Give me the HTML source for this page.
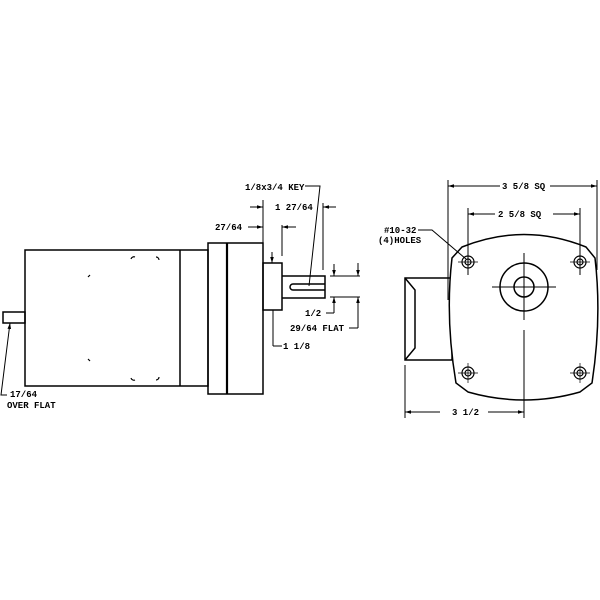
<!DOCTYPE html><html><head><style>body{margin:0;background:#fff}svg{display:block}text{font-family:"Liberation Mono",monospace;font-size:9px;font-weight:bold;fill:#000}</style></head><body>
<svg width="600" height="600" viewBox="0 0 600 600" xmlns="http://www.w3.org/2000/svg">
<defs><marker id="a" viewBox="0 0 10 10" refX="10" refY="5" markerWidth="6" markerHeight="6" orient="auto-start-reverse"><path d="M0,2L10,5L0,8z"/></marker></defs>
<g fill="none" stroke="#000" stroke-width="1.5">
<rect x="25" y="250" width="183" height="136"/>
<line x1="180" y1="250" x2="180" y2="386"/>
<rect x="3" y="312" width="22" height="11"/>
<rect x="208" y="243" width="55" height="151"/>
<line x1="227" y1="243" x2="227" y2="394" stroke-width="2.2"/>
<rect x="263" y="263" width="19" height="47"/>
<path d="M282,276H325V298H282"/>
<path d="M325,284H293a3,3 0 0 0 0,6H325"/>
<g stroke-width="1.2"><path d="M131,259a3,3 0 0 1 4,-2M156,257a3,3 0 0 1 3,3M88,277l2,-2M88,359l2,2M131,378a3,3 0 0 0 4,2M156,380a3,3 0 0 0 3,-3"/></g>
<g stroke-width="1">
<line x1="263" y1="200" x2="263" y2="243"/><line x1="323" y1="203" x2="323" y2="270"/><line x1="282" y1="225" x2="282" y2="256"/>
<line x1="250" y1="207" x2="263" y2="207" marker-end="url(#a)"/><line x1="336" y1="207" x2="323" y2="207" marker-end="url(#a)"/>
<line x1="248" y1="227" x2="263" y2="227" marker-end="url(#a)"/><line x1="296" y1="227" x2="282" y2="227" marker-end="url(#a)"/>
<line x1="272" y1="252" x2="272" y2="263" marker-end="url(#a)"/><line x1="273" y1="310" x2="273" y2="346"/><line x1="273" y1="346" x2="282" y2="346"/>
<path d="M305,186H320L309,286"/>
<line x1="330" y1="276" x2="360" y2="276"/><line x1="330" y1="297" x2="360" y2="297"/>
<line x1="334" y1="264" x2="334" y2="276" marker-end="url(#a)"/><line x1="334" y1="303" x2="334" y2="313"/><line x1="334" y1="303" x2="334" y2="297" marker-end="url(#a)"/><line x1="326" y1="313" x2="334" y2="313"/>
<line x1="358" y1="263" x2="358" y2="276" marker-end="url(#a)"/><line x1="358" y1="328" x2="358" y2="297" marker-end="url(#a)"/><line x1="349" y1="328" x2="358" y2="328"/>
<path d="M10,323L1,395H7" marker-start="url(#a)"/>
</g>
<path d="M405,278H452V360H405Z"/><path d="M405,278L415,290V348L405,360"/>
<path d="M462,247Q524,222 586,247L595,258Q602,318 592,383L580,392Q524,408 468,392L456,383Q445,318 452,258Z" fill="#fff"/>
<circle cx="524" cy="287" r="24"/><circle cx="524" cy="287" r="10"/>
<g stroke-width="1">
<line x1="492" y1="287" x2="556" y2="287"/><line x1="524" y1="253" x2="524" y2="320"/><line x1="524" y1="330" x2="524" y2="418"/>
<line x1="448" y1="180" x2="448" y2="300"/><line x1="597" y1="180" x2="597" y2="270"/>
<line x1="468" y1="208" x2="468" y2="275"/><line x1="580" y1="208" x2="580" y2="275"/>
<line x1="500" y1="186" x2="448" y2="186" marker-end="url(#a)"/><line x1="550" y1="186" x2="597" y2="186" marker-end="url(#a)"/>
<line x1="495" y1="214" x2="468" y2="214" marker-end="url(#a)"/><line x1="553" y1="214" x2="580" y2="214" marker-end="url(#a)"/>
<line x1="405" y1="365" x2="405" y2="418"/>
<line x1="440" y1="412" x2="405" y2="412" marker-end="url(#a)"/><line x1="488" y1="412" x2="524" y2="412" marker-end="url(#a)"/>
<path d="M418,230H432L466,259"/>
</g>
<g stroke-width="1.2">
<circle cx="468" cy="262" r="6"/><circle cx="468" cy="262" r="3"/><circle cx="580" cy="262" r="6"/><circle cx="580" cy="262" r="3"/>
<circle cx="468" cy="373" r="6"/><circle cx="468" cy="373" r="3"/><circle cx="580" cy="373" r="6"/><circle cx="580" cy="373" r="3"/>
</g>
<g stroke-width="0.7"><path d="M458,262H478M468,252V272M570,262H590M580,252V272M458,373H478M468,363V383M570,373H590M580,363V383"/></g>
</g>
<text x="245" y="190">1/8x3/4 KEY</text>
<text x="275" y="210">1 27/64</text>
<text x="215" y="230">27/64</text>
<text x="305" y="316">1/2</text>
<text x="290" y="331">29/64 FLAT</text>
<text x="283" y="349">1 1/8</text>
<text x="10" y="397">17/64</text>
<text x="7" y="408">OVER FLAT</text>
<text x="384" y="233">#10-32</text>
<text x="378" y="243">(4)HOLES</text>
<text x="502" y="189">3 5/8 SQ</text>
<text x="498" y="217">2 5/8 SQ</text>
<text x="452" y="415">3 1/2</text>
</svg></body></html>
